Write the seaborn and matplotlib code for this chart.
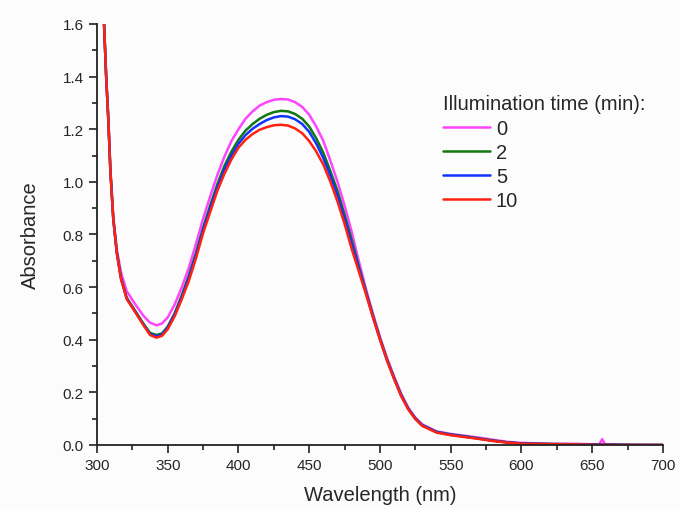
import pandas as pd
import matplotlib.pyplot as plt
from matplotlib.ticker import MultipleLocator
import seaborn as sns

# Dữ liệu phổ hấp thụ
wavelength = [305, 306.5, 308, 309.5, 311.5, 314, 317, 321, 327, 333, 337.5, 342, 346, 350,
              355, 360, 365, 370, 375, 380, 385, 390, 395, 400, 405, 410, 415, 420, 425, 430,
              435, 440, 445, 450, 455, 460, 465, 470, 475, 480, 485, 490, 495, 500, 505, 510,
              515, 520, 525, 530, 540, 550, 560, 570, 580, 590, 600, 620, 640, 650, 655, 657,
              659, 670, 680, 700]

abs_0 = [1.60, 1.40, 1.24, 1.045, 0.87, 0.745, 0.655, 0.585, 0.535, 0.49, 0.465, 0.455, 0.462, 0.485,
         0.535, 0.60, 0.675, 0.765, 0.86, 0.945, 1.025, 1.095, 1.155, 1.20, 1.24, 1.268, 1.29, 1.303, 1.312, 1.315,
         1.313, 1.303, 1.285, 1.255, 1.21, 1.155, 1.08, 1.00, 0.91, 0.81, 0.70, 0.595, 0.50, 0.41, 0.33, 0.26,
         0.195, 0.142, 0.104, 0.078, 0.052, 0.042, 0.035, 0.028, 0.02, 0.012, 0.008, 0.005, 0.004, 0.003, 0.003, 0.022,
         0.003, 0.001, 0.001, 0.0]

abs_2 = [1.60, 1.40, 1.24, 1.04, 0.862, 0.733, 0.635, 0.56, 0.51, 0.46, 0.426, 0.418, 0.424, 0.45,
         0.502, 0.57, 0.645, 0.73, 0.825, 0.91, 0.99, 1.06, 1.115, 1.16, 1.195, 1.22, 1.24, 1.255, 1.265, 1.27,
         1.268, 1.258, 1.24, 1.21, 1.165, 1.11, 1.04, 0.965, 0.875, 0.78, 0.68, 0.585, 0.492, 0.405, 0.325, 0.255,
         0.19, 0.138, 0.101, 0.075, 0.05, 0.04, 0.033, 0.025, 0.017, 0.01, 0.006, 0.004, 0.003, 0.002, 0.002, 0.002,
         0.002, 0.001, 0.0, 0.0]

abs_5 = [1.60, 1.40, 1.24, 1.04, 0.861, 0.731, 0.632, 0.557, 0.507, 0.457, 0.422, 0.413, 0.42, 0.446,
         0.497, 0.563, 0.637, 0.722, 0.817, 0.90, 0.978, 1.046, 1.10, 1.145, 1.178, 1.202, 1.22, 1.235, 1.245, 1.25,
         1.248, 1.238, 1.22, 1.19, 1.145, 1.09, 1.022, 0.948, 0.86, 0.765, 0.672, 0.58, 0.488, 0.402, 0.322, 0.252,
         0.188, 0.137, 0.1, 0.074, 0.049, 0.039, 0.032, 0.024, 0.016, 0.01, 0.006, 0.003, 0.002, 0.002, 0.002, 0.002,
         0.002, 0.001, 0.0, 0.0]

abs_10 = [1.60, 1.40, 1.24, 1.04, 0.86, 0.73, 0.63, 0.555, 0.505, 0.454, 0.418, 0.408, 0.415, 0.44,
          0.49, 0.555, 0.625, 0.71, 0.805, 0.885, 0.965, 1.03, 1.085, 1.13, 1.16, 1.182, 1.198, 1.208, 1.215, 1.217,
          1.214, 1.203, 1.185, 1.155, 1.115, 1.065, 1.00, 0.925, 0.84, 0.745, 0.66, 0.575, 0.485, 0.40, 0.32, 0.25,
          0.185, 0.135, 0.098, 0.072, 0.047, 0.037, 0.030, 0.023, 0.015, 0.009, 0.005, 0.003, 0.002, 0.001, 0.001, 0.001,
          0.001, 0.0, 0.0, 0.0]

times = ["0", "2", "5", "10"]
colors = ["#ff44ff", "#117711", "#1133ff", "#ff2211"]

frames = []
for t, vals in zip(times, [abs_0, abs_2, abs_5, abs_10]):
    frames.append(pd.DataFrame({"wl": wavelength, "A": vals, "t": t}))
df = pd.concat(frames, ignore_index=True)

sns.set_theme(style="ticks")
plt.rcParams["font.family"] = ["Liberation Sans", "DejaVu Sans"]

fig = plt.figure(figsize=(6.8, 5.1), dpi=100, facecolor="#fcfcfc")
ax = fig.add_axes([0.1426, 0.1255, 0.8324, 0.8255])
ax.set_facecolor("#fcfcfc")

sns.lineplot(data=df, x="wl", y="A", hue="t", hue_order=times, palette=colors,
             linewidth=1.8, ax=ax, sort=False)

ax.set_xlim(300, 700)
ax.set_ylim(0, 1.6)
ax.xaxis.set_major_locator(MultipleLocator(50))
ax.xaxis.set_minor_locator(MultipleLocator(25))
ax.yaxis.set_major_locator(MultipleLocator(0.2))
ax.yaxis.set_minor_locator(MultipleLocator(0.1))
ax.yaxis.set_major_formatter(plt.FormatStrFormatter("%.1f"))
ax.tick_params(which="major", length=6, width=1.2, labelsize=11, color="#222222")
ax.tick_params(which="minor", length=3.5, width=1.2, color="#222222")
for s in ["top", "right"]:
    ax.spines[s].set_visible(False)
for s in ["left", "bottom"]:
    ax.spines[s].set_linewidth(1.3)
    ax.spines[s].set_color("#222222")

ax.set_xlabel("Wavelength (nm)", fontsize=14.5, labelpad=9)
ax.set_ylabel("Absorbance", fontsize=14.5, labelpad=16)

ax.legend(title="Illumination time (min):", frameon=False, loc="upper left",
          bbox_to_anchor=(0.58, 0.876), fontsize=14.5, title_fontsize=14.5,
          handlelength=2.3, labelspacing=0.26, handletextpad=0.3, alignment="left")

plt.savefig("out.png", dpi=100, facecolor=fig.get_facecolor())
